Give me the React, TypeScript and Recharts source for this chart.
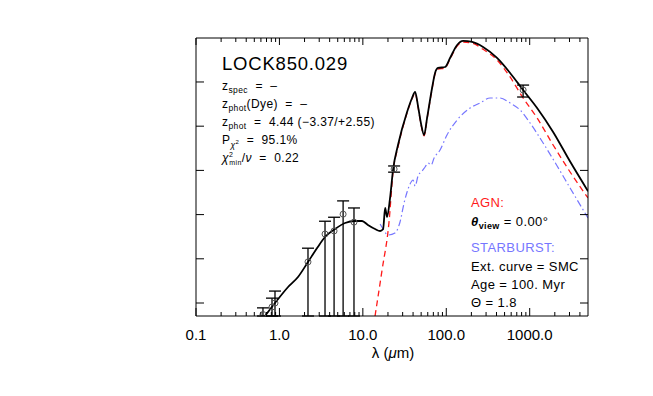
import React from "react";
import { ComposedChart, Line, Scatter, ErrorBar, XAxis, YAxis } from "recharts";

// ---- Data (wavelength in micron, y in arbitrary log-flux units) ----
const totalX = [0.671, 0.885, 1.27, 1.67, 2.2, 2.83, 3.52, 4.64, 6.12, 8.06, 9.78, 11.5, 14.0, 16.1, 17.5, 18.5, 19.5, 21.2, 23.0, 26.4, 33.9, 38.9, 42.3, 45.9, 49.9, 54.2, 58.9, 67.6, 73.4, 79.8, 96.8, 111, 135, 159, 204, 276, 406, 582, 834, 1227, 1909, 3050, 5000];
const totalY = [0.706, 1.0, 1.362, 1.588, 1.928, 2.244, 2.493, 2.674, 2.81, 2.855, 2.855, 2.765, 2.674, 2.629, 2.674, 3.149, 2.946, 3.376, 4.009, 4.575, 5.321, 5.638, 5.774, 5.45, 5.05, 4.801, 5.186, 5.864, 6.204, 6.317, 6.339, 6.543, 6.837, 6.928, 6.905, 6.792, 6.543, 6.204, 5.819, 5.412, 4.869, 4.2, 3.53];

const agnX = [14.0, 17.0, 20.6, 23.0, 26.4, 33.9, 38.9, 42.3, 45.9, 49.9, 54.2, 58.9, 67.6, 73.4, 79.8, 96.8, 111, 135, 159, 204, 276, 406, 582, 834, 1227, 1909, 3050, 5000];
const agnY = [0.706, 1.747, 2.833, 3.96, 4.53, 5.3, 5.62, 5.75, 5.43, 5.03, 4.78, 5.17, 5.84, 6.18, 6.29, 6.32, 6.52, 6.81, 6.905, 6.88, 6.74, 6.498, 6.113, 5.638, 5.186, 4.575, 3.964, 3.376];

const sbX = [16.1, 17.5, 20.0, 24.3, 27.9, 31.2, 33.9, 36.8, 40.0, 42.3, 45.9, 51.3, 55.7, 60.5, 65.8, 71.5, 84.3, 102, 135, 193, 254, 335, 442, 582, 767, 1011, 1449, 2133, 3050, 5000];
const sbY = [2.787, 2.674, 2.538, 2.584, 2.833, 3.262, 3.511, 3.692, 3.783, 3.647, 3.873, 3.986, 4.077, 4.167, 4.122, 4.281, 4.462, 4.801, 5.14, 5.412, 5.525, 5.638, 5.638, 5.525, 5.367, 5.072, 4.62, 4.1, 3.602, 2.923];

const obsX = [0.635, 0.815, 0.885, 2.2, 3.52, 4.52, 5.8, 7.83, 23.7, 834];
const obsY = [0.74, 0.91, 1.0, 1.93, 2.56, 2.63, 3.01, 2.83, 4.03, 5.82];
const obsErrLow = [0.034, 0.204, 0.294, 1.224, 1.854, 1.924, 2.304, 2.124, 0.07, 0.16];
const obsErrHigh = [0.15, 0.2, 0.27, 0.31, 0.29, 0.31, 0.3, 0.32, 0.07, 0.11];

const majorTicks = [0.1, 1, 10, 100, 1000];
const majorLabels = ["0.1", "1.0", "10.0", "100.0", "1000.0"];
const minorMultipliers = [1, 2, 3, 4, 5, 6, 7, 8, 9];
const yTicks = [1, 2, 3, 4, 5, 6];

const xTicks: number[] = [];
majorTicks.forEach((m) => minorMultipliers.forEach((k) => {
  const v = +(m * k).toPrecision(6);
  if (v < 5000) xTicks.push(v);
}));

const totalData = totalX.map((x, i) => ({ x, y: totalY[i] }));
const agnData = agnX.map((x, i) => ({ x, y: agnY[i] }));
const sbData = sbX.map((x, i) => ({ x, y: sbY[i] }));
const obsData = obsX.map((x, i) => ({ x, y: obsY[i], err: [obsErrLow[i], obsErrHigh[i]] }));

const W = 645;
const H = 380;
const FONT = "'Liberation Sans', Arial, Helvetica, sans-serif";
const RED = "#ff1a1a";
const BLUE = "#7676ff";

const isMajor = (v: number) => majorTicks.some((m) => Math.abs(m - v) / m < 1e-6);

const BottomTick = (props: any) => {
  const { x, y, payload } = props;
  const v = payload.value;
  const maj = isMajor(v);
  const idx = majorTicks.findIndex((m) => Math.abs(m - v) / m < 1e-6);
  return (
    <g>
      <line x1={x} x2={x} y1={y} y2={y - (maj ? 8 : 4)} stroke="#000" strokeWidth={1} />
      {maj && (
        <text x={x} y={y + 24} textAnchor="middle" fontSize={15} fontFamily={FONT} fill="#000">
          {majorLabels[idx]}
        </text>
      )}
    </g>
  );
};

const TopTick = (props: any) => {
  const { x, y, payload } = props;
  const maj = isMajor(payload.value);
  return <line x1={x} x2={x} y1={y} y2={y + (maj ? 7 : 4)} stroke="#000" strokeWidth={1} />;
};

const LeftTick = (props: any) => {
  const { x, y } = props;
  return <line x1={x} x2={x + 8} y1={y} y2={y} stroke="#000" strokeWidth={1} />;
};
const RightTick = (props: any) => {
  const { x, y } = props;
  return <line x1={x} x2={x - 8} y1={y} y2={y} stroke="#000" strokeWidth={1} />;
};

const ObsPoint = (props: any) => {
  const { cx, cy } = props;
  return <circle cx={cx} cy={cy} r={3} fill="none" stroke="#555" strokeWidth={1} />;
};

const pre = { whiteSpace: "pre" as const };

export default function App() {
  const sub = 8.5;
  return (
    <div style={{ position: "relative", width: W, height: H }}>
      <ComposedChart width={W} height={H} margin={{ top: 20, right: 45, bottom: 22, left: 168 }}>
        <XAxis
          xAxisId="b"
          dataKey="x"
          type="number"
          scale="log"
          domain={[0.1, 5000]}
          allowDataOverflow
          ticks={xTicks}
          interval={0}
          tickLine={false}
          tickSize={0}
          tickMargin={0}
          tick={<BottomTick />}
          height={50}
          axisLine={{ stroke: "#000", strokeWidth: 1 }}
        />
        <XAxis
          xAxisId="t"
          orientation="top"
          dataKey="x"
          type="number"
          scale="log"
          domain={[0.1, 5000]}
          allowDataOverflow
          ticks={xTicks}
          interval={0}
          tickLine={false}
          tickSize={0}
          tickMargin={0}
          tick={<TopTick />}
          height={10}
          axisLine={{ stroke: "#000", strokeWidth: 1 }}
        />
        <YAxis
          yAxisId="l"
          type="number"
          domain={[0.706, 6.995]}
          allowDataOverflow
          ticks={yTicks}
          interval={0}
          tickLine={false}
          tickSize={0}
          tickMargin={0}
          tick={<LeftTick />}
          width={20}
          axisLine={{ stroke: "#000", strokeWidth: 1 }}
        />
        <YAxis
          yAxisId="r"
          orientation="right"
          type="number"
          domain={[0.706, 6.995]}
          allowDataOverflow
          ticks={yTicks}
          interval={0}
          tickLine={false}
          tickSize={0}
          tickMargin={0}
          tick={<RightTick />}
          width={20}
          axisLine={{ stroke: "#000", strokeWidth: 1 }}
        />
        <Line xAxisId="b" yAxisId="l" data={sbData} dataKey="y" type="monotone" stroke={BLUE} strokeWidth={1.2} strokeDasharray="7 3 1.5 3" dot={false} isAnimationActive={false} />
        <Line xAxisId="b" yAxisId="l" data={agnData} dataKey="y" type="monotone" stroke={RED} strokeWidth={1.3} strokeDasharray="6 4" dot={false} isAnimationActive={false} />
        <Line xAxisId="b" yAxisId="l" data={totalData} dataKey="y" type="monotone" stroke="#000" strokeWidth={1.8} dot={false} isAnimationActive={false} />
        <Scatter xAxisId="b" yAxisId="l" data={obsData} dataKey="y" shape={<ObsPoint />} isAnimationActive={false}>
          <ErrorBar dataKey="err" direction="y" width={6} stroke="#000" strokeWidth={1.3} />
        </Scatter>
      </ComposedChart>
      <svg width={W} height={H} style={{ position: "absolute", left: 0, top: 0, pointerEvents: "none" }} fontFamily={FONT}>
        <text x={214} y={62} fontSize={18.5} letterSpacing={0.8} fill="#000">LOCK850.029</text>
        <g fontSize={12} fill="#000" letterSpacing={0.4}>
          <text x={214} y={82} style={pre}>z<tspan fontSize={sub} dy={3}>spec</tspan><tspan dy={-3}>{"  =  –"}</tspan></text>
          <text x={214} y={100} style={pre}>z<tspan fontSize={sub} dy={3}>phot</tspan><tspan dy={-3}>{"(Dye)  =  –"}</tspan></text>
          <text x={214} y={118} style={pre}>z<tspan fontSize={sub} dy={3}>phot</tspan><tspan dy={-3}>{"  =  4.44 (−3.37/+2.55)"}</tspan></text>
          <text x={214} y={136} style={pre}>P<tspan fontSize={sub} dy={4} fontStyle="italic">χ</tspan><tspan fontSize={6} dy={-4}>2</tspan><tspan dy={0}>{"  =  95.1%"}</tspan></text>
          <text x={214} y={154} style={pre}><tspan fontStyle="italic">χ</tspan><tspan fontSize={7} dy={-5}>2</tspan><tspan fontSize={7} dx={-4} dy={8}>min</tspan><tspan dy={-3}>{"/"}</tspan><tspan fontStyle="italic">ν</tspan><tspan>{"  =  0.22"}</tspan></text>
        </g>
        <g fontSize={13} fill="#000" letterSpacing={0.4}>
          <text x={463} y={199} fill={RED}>AGN:</text>
          <text x={463} y={218} style={pre}><tspan fontWeight="bold" fontStyle="italic">θ</tspan><tspan fontSize={9} fontWeight="bold" dy={3}>view</tspan><tspan dy={-3}>{" = 0.00°"}</tspan></text>
          <text x={463} y={244} fill={BLUE}>STARBURST:</text>
          <text x={463} y={263} style={pre}>{"Ext. curve = SMC"}</text>
          <text x={463} y={281} style={pre}>{"Age = 100. Myr"}</text>
          <text x={463} y={299} style={pre}>{"Θ = 1.8"}</text>
        </g>
        <text x={385} y={350} fontSize={15} textAnchor="middle" fill="#000" style={pre}>λ (<tspan fontStyle="italic">μ</tspan>m)</text>
      </svg>
    </div>
  );
}
